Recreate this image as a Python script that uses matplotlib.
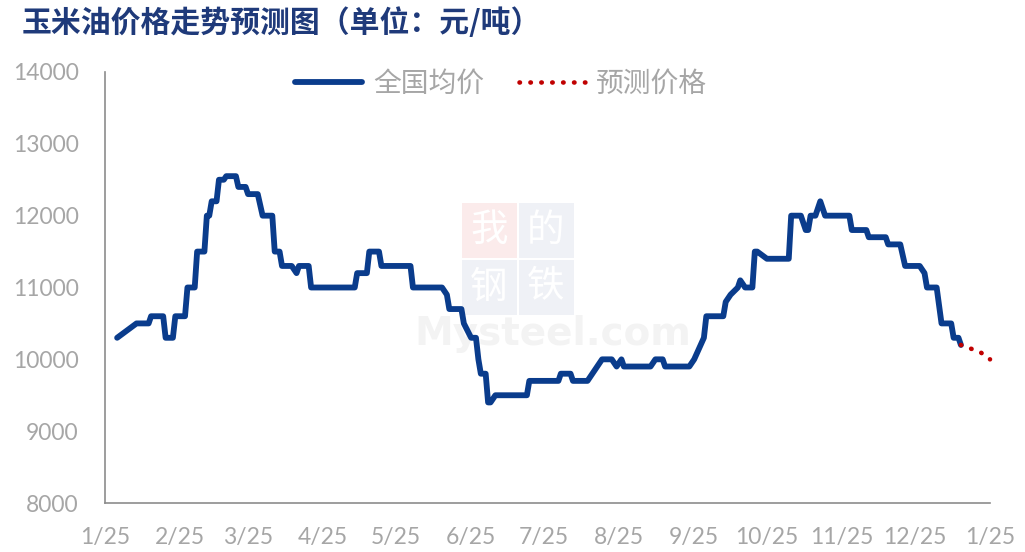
import matplotlib
matplotlib.use("Agg")
import matplotlib.pyplot as plt
from matplotlib import font_manager
from matplotlib.patches import Rectangle
import pandas as pd

# ---- data ----
actual_dates = [
    "2025-01-06", "2025-01-10", "2025-01-12", "2025-01-14", "2025-01-19", "2025-01-20",
    "2025-01-25", "2025-01-26", "2025-01-29", "2025-01-30", "2025-02-03", "2025-02-04",
    "2025-02-07", "2025-02-08", "2025-02-11", "2025-02-12", "2025-02-13", "2025-02-14",
    "2025-02-16", "2025-02-17", "2025-02-19", "2025-02-20", "2025-02-24", "2025-02-25",
    "2025-02-28", "2025-03-01", "2025-03-05", "2025-03-07", "2025-03-11", "2025-03-12",
    "2025-03-14", "2025-03-15", "2025-03-19", "2025-03-21", "2025-03-22", "2025-03-26",
    "2025-03-27", "2025-04-14", "2025-04-15", "2025-04-19", "2025-04-20", "2025-04-24",
    "2025-04-25", "2025-05-07", "2025-05-08", "2025-05-20", "2025-05-22", "2025-05-23",
    "2025-05-28", "2025-05-29", "2025-06-01", "2025-06-03", "2025-06-04", "2025-06-05",
    "2025-06-07", "2025-06-08", "2025-06-09", "2025-06-11", "2025-06-24", "2025-06-25",
    "2025-07-07", "2025-07-08", "2025-07-12", "2025-07-13", "2025-07-19", "2025-07-21",
    "2025-07-22", "2025-07-25", "2025-07-29", "2025-07-31", "2025-08-02", "2025-08-03",
    "2025-08-14", "2025-08-16", "2025-08-19", "2025-08-20", "2025-08-30", "2025-09-01",
    "2025-09-03", "2025-09-05", "2025-09-06", "2025-09-13", "2025-09-14", "2025-09-16",
    "2025-09-19", "2025-09-20", "2025-09-22", "2025-09-25", "2025-09-26", "2025-09-27",
    "2025-10-01", "2025-10-10", "2025-10-11", "2025-10-15", "2025-10-17", "2025-10-18",
    "2025-10-19", "2025-10-21", "2025-10-23", "2025-10-25", "2025-11-04", "2025-11-05",
    "2025-11-11", "2025-11-12", "2025-11-19", "2025-11-20", "2025-11-25", "2025-11-27",
    "2025-12-03", "2025-12-05", "2025-12-06", "2025-12-10", "2025-12-12", "2025-12-16",
    "2025-12-17", "2025-12-19", "2025-12-20",
]
actual_values = [
    10300, 10400, 10450, 10500, 10500, 10600,
    10600, 10300, 10300, 10600, 10600, 11000,
    11000, 11500, 11500, 12000, 12000, 12200,
    12200, 12500, 12500, 12550, 12550, 12400,
    12400, 12300, 12300, 12000, 12000, 11500,
    11500, 11300, 11300, 11200, 11300, 11300,
    11000, 11000, 11200, 11200, 11500, 11500,
    11300, 11300, 11000, 11000, 10900, 10700,
    10700, 10500, 10300, 10300, 10000, 9800,
    9800, 9400, 9400, 9500, 9500, 9700,
    9700, 9800, 9800, 9700, 9700, 9800,
    9850, 10000, 10000, 9900, 10000, 9900,
    9900, 10000, 10000, 9900, 9900, 10000,
    10150, 10300, 10600, 10600, 10800, 10900,
    11000, 11100, 11000, 11000, 11500, 11500,
    11400, 11400, 12000, 12000, 11800, 11800,
    12000, 12000, 12200, 12000, 12000, 11800,
    11800, 11700, 11700, 11600, 11600, 11300,
    11300, 11200, 11000, 11000, 10500, 10500,
    10300, 10300, 10200,
]
forecast_dates = ["2025-12-20", "2025-12-24", "2025-12-28", "2026-01-01"]
forecast_values = [10200, 10150, 10100, 10000]

x_tick_dates = ["2025-01-01", "2025-02-01", "2025-03-01", "2025-04-01", "2025-05-01",
                "2025-06-01", "2025-07-01", "2025-08-01", "2025-09-01", "2025-10-01",
                "2025-11-01", "2025-12-01", "2026-01-01"]
x_tick_labels = ["1/25", "2/25", "3/25", "4/25", "5/25", "6/25", "7/25", "8/25",
                 "9/25", "10/25", "11/25", "12/25", "1/25"]
y_ticks = [8000, 9000, 10000, 11000, 12000, 13000, 14000]

title = "玉米油价格走势预测图（单位：元/吨）"
legend_labels = ["全国均价", "预测价格"]

# ---- fonts ----
available = {f.name for f in font_manager.fontManager.ttflist}
num_font = "Lato" if "Lato" in available else "Open Sans"
cjk = "Noto Sans CJK SC"
plt.rcParams["font.family"] = [cjk, "DejaVu Sans"]

blue = "#0A3C8C"
red = "#C00000"
gray_txt = "#A6A6A6"

fig = plt.figure(figsize=(10.25, 5.52), dpi=100)
ax = fig.add_axes([105 / 1025, 1 - 503 / 552, (990 - 105) / 1025, (503 - 72) / 552])

ad = pd.to_datetime(actual_dates)
fd = pd.to_datetime(forecast_dates)

l1, = ax.plot(ad, actual_values, color=blue, lw=4.2, solid_joinstyle="round",
              solid_capstyle="round", zorder=3)
l2, = ax.plot(fd, forecast_values, color=red, lw=3.3, linestyle=(0, (0.1, 2.28)),
              dash_capstyle="round", zorder=4, clip_on=False)

ax.set_xlim(pd.Timestamp("2025-01-01"), pd.Timestamp("2026-01-01"))
ax.set_ylim(8000, 14000)
ax.set_yticks(y_ticks)
ax.set_yticklabels([str(v) for v in y_ticks])
ax.set_xticks(pd.to_datetime(x_tick_dates))
ax.set_xticklabels(x_tick_labels)
ax.tick_params(axis="both", length=0, colors=gray_txt, labelsize=16.5)
ax.tick_params(axis="x", pad=17)
ax.tick_params(axis="y", pad=19)
for lab in ax.get_xticklabels() + ax.get_yticklabels():
    lab.set_fontfamily(num_font)
    lab.set_color(gray_txt)

for s in ["top", "right"]:
    ax.spines[s].set_visible(False)
for s in ["left", "bottom"]:
    ax.spines[s].set_color("#8C8C8C")
    ax.spines[s].set_linewidth(1.2)

# watermark (faint logo)
wm_boxes = [(462, 203, "我", "#FBEBEB"), (519, 203, "的", "#EFF1F6"),
            (462, 260, "钢", "#EFF1F6"), (519, 260, "铁", "#EFF1F6")]
for (px, py, ch, col) in wm_boxes:
    fig.patches.append(Rectangle((px / 1025, 1 - (py + 55) / 552), 55 / 1025, 55 / 552,
                                 transform=fig.transFigure, facecolor=col,
                                 edgecolor="none", zorder=0))
    fig.text((px + 27) / 1025, 1 - (py + 27) / 552, ch, fontsize=27, color="white",
             ha="center", va="center", fontfamily=[cjk], zorder=0.5)
fig.text(553 / 1025, 1 - 334 / 552, "Mysteel.com", fontsize=28, color="#F3F3F3",
         ha="center", va="center", fontfamily="DejaVu Sans", fontweight="bold", zorder=0.5)
ax.set_facecolor("none")
ax.set_zorder(2)

# title
fig.text(22 / 1025, 1 - 23 / 552, title, fontsize=21.5, fontweight="bold",
         color="#1F3A7A", ha="left", va="center", fontfamily=[cjk])

# legend
leg = ax.legend([l1, l2], legend_labels, loc="center left",
                bbox_to_anchor=((295 - 105) / 885, (503 - 84) / 431), ncol=2,
                frameon=False, borderpad=0, borderaxespad=0,
                fontsize=20, handlelength=2.4, handletextpad=0.4, columnspacing=1.25,
                labelcolor=gray_txt)

fig.savefig("out.png", dpi=100)
